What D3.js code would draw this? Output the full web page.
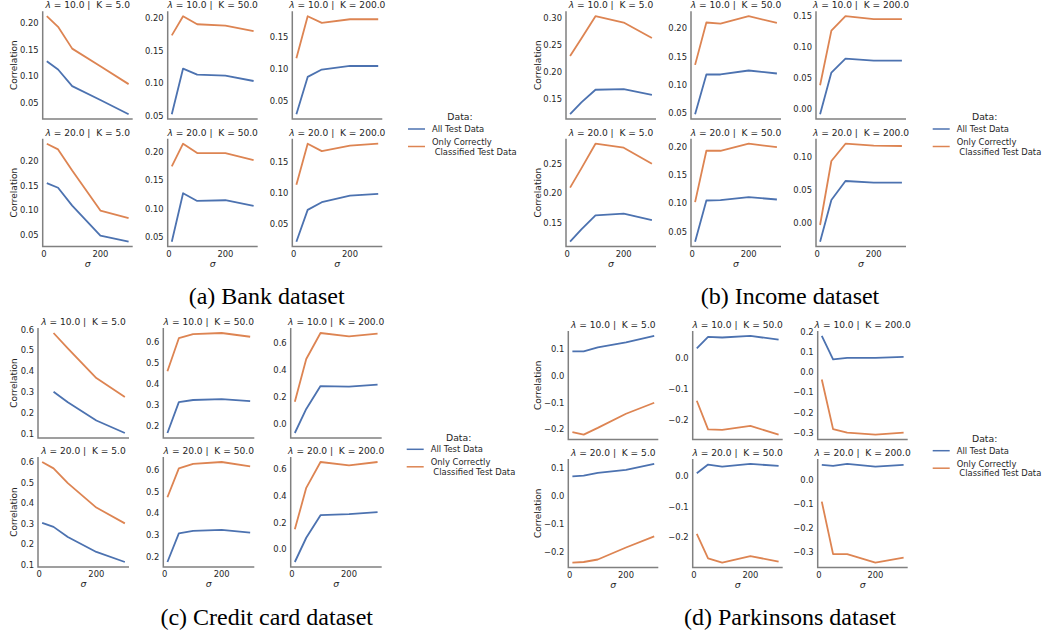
<!DOCTYPE html>
<html lang="en">
<head>
<meta charset="UTF-8">
<title>Correlation vs sigma</title>
<script src="https://cdn.jsdelivr.net/npm/d3@7"></script>
<style>
  body { margin: 0; background: #fff; }
  text { font-family: "DejaVu Sans", sans-serif; fill: #262626; }
  .caption { font-family: "Liberation Serif", "Times New Roman", serif; fill: #000; }
</style>
</head>
<body>
<script>
// sigma values on the x axis, shared by every subplot
const sigma = [10, 50, 100, 200, 300];
const xTicks = [0, 200];
const lambdaVals = ["10.0", "20.0"];
const kVals = ["5.0", "50.0", "200.0"];
const seriesNames = ["All Test Data", "Only Correctly", " Classified Test Data"];

// each array: 6 subplots in order (λ=10,K=5) (λ=10,K=50) (λ=10,K=200) (λ=20,K=5) (λ=20,K=50) (λ=20,K=200)
const bankAll = [
  [0.1285, 0.113, 0.082, 0.056, 0.0296],
  [0.0526, 0.1227, 0.1134, 0.1118, 0.1036],
  [0.0304, 0.0881, 0.0995, 0.105, 0.105],
  [0.1554, 0.146, 0.110, 0.0493, 0.037],
  [0.0424, 0.1276, 0.1141, 0.1153, 0.1053],
  [0.0215, 0.0726, 0.085, 0.0957, 0.0984]
];
const bankCorrect = [
  [0.2124, 0.1926, 0.1519, 0.119, 0.0857],
  [0.1737, 0.2031, 0.1907, 0.1887, 0.18],
  [0.117, 0.182, 0.1717, 0.1773, 0.1773],
  [0.2351, 0.2236, 0.181, 0.10, 0.0845],
  [0.1747, 0.2147, 0.1982, 0.1982, 0.1859],
  [0.1129, 0.179, 0.167, 0.176, 0.179]
];
const incomeAll = [
  [0.1229, 0.1445, 0.1678, 0.169, 0.1586],
  [0.0488, 0.1186, 0.1186, 0.1256, 0.1203],
  [-0.009, 0.0585, 0.0809, 0.0777, 0.0777],
  [0.1178, 0.1387, 0.1624, 0.1653, 0.1545],
  [0.0323, 0.1053, 0.106, 0.1113, 0.1071],
  [-0.029, 0.0345, 0.0635, 0.061, 0.061]
];
const incomeCorrect = [
  [0.2297, 0.262, 0.303, 0.2914, 0.263],
  [0.1355, 0.2099, 0.2081, 0.221, 0.2093],
  [0.0378, 0.1263, 0.1497, 0.145, 0.145],
  [0.2096, 0.2423, 0.2842, 0.2774, 0.25],
  [0.1024, 0.1935, 0.1935, 0.206, 0.20],
  [-0.0036, 0.0939, 0.1203, 0.1173, 0.1168]
];
const creditAll = [
  [null, 0.303, 0.252, 0.165, 0.105],
  [0.165, 0.313, 0.323, 0.327, 0.318],
  [-0.069, 0.109, 0.279, 0.274, 0.289],
  [0.305, 0.285, 0.236, 0.163, 0.114],
  [0.177, 0.309, 0.32, 0.325, 0.312],
  [-0.0925, 0.0875, 0.255, 0.2625, 0.2775]
];
const creditCorrect = [
  [null, 0.584, 0.51, 0.368, 0.277],
  [0.461, 0.619, 0.639, 0.644, 0.626],
  [0.163, 0.479, 0.672, 0.647, 0.667],
  [0.601, 0.57, 0.498, 0.379, 0.302],
  [0.475, 0.608, 0.628, 0.637, 0.617],
  [0.15, 0.458, 0.65, 0.625, 0.65]
];
const parkAll = [
  [0.0925, 0.0925, 0.1075, 0.126, 0.15],
  [0.031, 0.068, 0.066, 0.071, 0.059],
  [0.179, 0.063, 0.071, 0.071, 0.076],
  [0.0717, 0.074, 0.0838, 0.0946, 0.116],
  [0.0087, 0.037, 0.030, 0.039, 0.0326],
  [0.062, 0.058, 0.066, 0.055, 0.062]
];
const parkCorrect = [
  [-0.21, -0.219, -0.194, -0.141, -0.10],
  [-0.138, -0.230, -0.232, -0.219, -0.247],
  [-0.036, -0.281, -0.298, -0.308, -0.298],
  [-0.238, -0.236, -0.227, -0.184, -0.144],
  [-0.189, -0.268, -0.282, -0.261, -0.279],
  [-0.09, -0.307, -0.307, -0.342, -0.322]
];

const blue = "#4c72b0", orange = "#dd8452";
const width = 1045, height = 638;

const svg = d3.select("body").append("svg")
  .attr("width", width)
  .attr("height", height);

// panel layouts (pixel positions only)
const panels = [
  { all: bankAll, corr: bankCorrect, caption: "(a) Bank dataset",
    lefts: [42.7, 167.7, 292.3], w: 90, tops: [11.3, 138.8], h: 107.8, ylabX: 14,
    leg: { x: 408, y: 129 }, cap: { x: 266.7, y: 304 } },
  { all: incomeAll, corr: incomeCorrect, caption: "(b) Income dataset",
    lefts: [566, 691, 816], w: 90, tops: [11.3, 138.8], h: 107.8, ylabX: 538,
    leg: { x: 932.7, y: 129 }, cap: { x: 790, y: 304 } },
  { all: creditAll, corr: creditCorrect, caption: "(c) Credit card dataset",
    lefts: [38, 163.3, 290.7], w: 91, tops: [328, 457], h: 110, ylabX: 14,
    leg: { x: 406.7, y: 449.3 }, cap: { x: 266.7, y: 625 } },
  { all: parkAll, corr: parkCorrect, caption: "(d) Parkinsons dataset",
    lefts: [568.3, 692.7, 817.7], w: 90, tops: [331, 459], h: 108.5, ylabX: 538,
    leg: { x: 932.7, y: 450.7 }, cap: { x: 790, y: 625 } }
];

function pad(ext) {
  const m = (ext[1] - ext[0]) * 0.05;
  return [ext[0] - m, ext[1] + m];
}

panels.forEach(p => {
  const g = svg.append("g");

  for (let r = 0; r < 2; r++) {
    for (let c = 0; c < 3; c++) {
      const i = r * 3 + c;
      const x0 = p.lefts[c], y0 = p.tops[r];
      const x = d3.scaleLinear().domain(pad(d3.extent(sigma))).range([x0, x0 + p.w]);
      const vals = p.all[i].concat(p.corr[i]).filter(v => v != null);
      const y = d3.scaleLinear().domain(pad(d3.extent(vals))).range([y0 + p.h, y0]);

      const sub = g.append("g");

      // spines (left + bottom)
      sub.append("path")
        .attr("d", `M${x0},${y0}V${y0 + p.h}H${x0 + p.w}`)
        .attr("fill", "none")
        .attr("stroke", "#808080")
        .attr("stroke-width", 1.5);

      // y ticks
      const yt = y.ticks(4), fmt = y.tickFormat(4);
      sub.selectAll(".yt").data(yt).join("text")
        .attr("x", x0 - 4)
        .attr("y", d => y(d))
        .attr("dy", "0.35em")
        .attr("text-anchor", "end")
        .attr("font-size", 8.4)
        .text(fmt);

      // x ticks on bottom row only
      if (r === 1) {
        sub.selectAll(".xt").data(xTicks).join("text")
          .attr("x", d => x(d))
          .attr("y", y0 + p.h + 10)
          .attr("text-anchor", "middle")
          .attr("font-size", 8.4)
          .text(d => d);
        sub.append("text")
          .attr("x", x0 + p.w / 2)
          .attr("y", y0 + p.h + 20)
          .attr("text-anchor", "middle")
          .attr("font-size", 9.3)
          .attr("font-style", "italic")
          .text("σ");
      }

      // y label on first column
      if (c === 0) {
        sub.append("text")
          .attr("transform", `translate(${p.ylabX},${y0 + p.h / 2}) rotate(-90)`)
          .attr("dy", "0.35em")
          .attr("text-anchor", "middle")
          .attr("font-size", 9)
          .text("Correlation");
      }

      // title
      const t = sub.append("text")
        .attr("x", x0 + p.w / 2)
        .attr("y", y0 - 3)
        .attr("text-anchor", "middle")
        .attr("font-size", 9.1)
        .style("white-space", "pre");
      t.append("tspan").attr("font-style", "italic").text("λ");
      t.append("tspan").text(` = ${lambdaVals[r]} |  K = ${kVals[c]}`);

      // lines
      const line = d3.line()
        .defined(d => d[1] != null)
        .x(d => x(d[0]))
        .y(d => y(d[1]));
      [[p.all[i], blue], [p.corr[i], orange]].forEach(([s, col]) => {
        sub.append("path")
          .datum(sigma.map((sv, k) => [sv, s[k]]))
          .attr("d", line)
          .attr("fill", "none")
          .attr("stroke", col)
          .attr("stroke-width", 1.8)
          .attr("stroke-linejoin", "round");
      });
    }
  }

  // legend
  const L = p.leg;
  const lg = g.append("g");
  lg.append("text")
    .attr("x", L.x + 52).attr("y", L.y - 12)
    .attr("dy", "0.35em")
    .attr("text-anchor", "middle")
    .attr("font-size", 9.3)
    .text("Data:");
  lg.append("line")
    .attr("x1", L.x).attr("x2", L.x + 17)
    .attr("y1", L.y).attr("y2", L.y)
    .attr("stroke", blue).attr("stroke-width", 1.5);
  lg.append("line")
    .attr("x1", L.x).attr("x2", L.x + 17)
    .attr("y1", L.y + 17.5).attr("y2", L.y + 17.5)
    .attr("stroke", orange).attr("stroke-width", 1.5);
  lg.append("text")
    .attr("x", L.x + 24).attr("y", L.y)
    .attr("dy", "0.35em").attr("font-size", 8.4)
    .text(seriesNames[0]);
  lg.append("text")
    .attr("x", L.x + 24).attr("y", L.y + 13)
    .attr("dy", "0.35em").attr("font-size", 8.4)
    .text(seriesNames[1]);
  lg.append("text")
    .attr("x", L.x + 24).attr("y", L.y + 22.7)
    .attr("dy", "0.35em").attr("font-size", 8.4)
    .style("white-space", "pre")
    .text(seriesNames[2]);

  // caption
  g.append("text")
    .attr("class", "caption")
    .attr("x", p.cap.x).attr("y", p.cap.y)
    .attr("text-anchor", "middle")
    .attr("font-size", 24)
    .text(p.caption);
});
</script>
</body>
</html>
